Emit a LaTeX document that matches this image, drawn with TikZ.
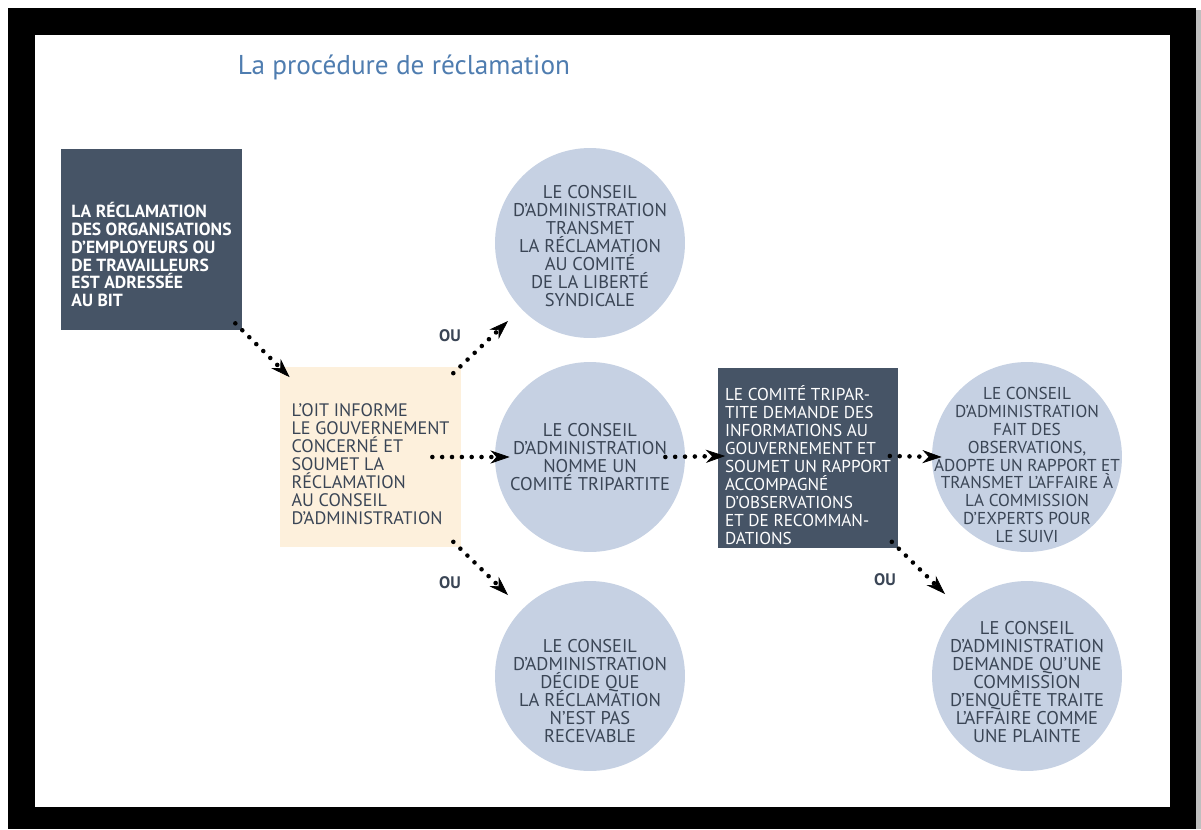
\documentclass[tikz,border=0pt]{standalone}
\usepackage{fontspec}
\setmainfont{PT Sans}
\usetikzlibrary{arrows.meta}

\definecolor{ardoise}{HTML}{465466}
\definecolor{creme}{HTML}{FDF0DC}
\definecolor{bulle}{HTML}{C6D1E3}
\definecolor{encre}{HTML}{3A4555}
\definecolor{titrebleu}{HTML}{4F7DB0}

\newcommand\serre{\lineskiplimit-20pt\relax}

\tikzset{
  pave/.style={rectangle, minimum width=3.62cm, minimum height=3.62cm, inner sep=0pt},
  pavefonce/.style={pave, fill=ardoise},
  paveclair/.style={pave, fill=creme},
  rond/.style={circle, fill=bulle, minimum size=3.8cm, inner sep=0pt},
  txtblanc/.style={text=white, align=left, inner sep=0pt, font=\fontsize{9.8}{10.2}\selectfont\serre},
  txtfonce/.style={text=encre, align=left, inner sep=0pt, font=\fontsize{10.3}{10.2}\selectfont\serre},
  txtrond/.style={text=encre, align=center, inner sep=0pt, font=\fontsize{10.5}{10.2}\selectfont\serre},
  ou/.style={text=encre, font=\fontsize{9.5}{10}\selectfont\bfseries},
  fleche/.style={line width=2.6pt, line cap=round, dash pattern=on 0pt off 5.6pt,
    -{Stealth[length=11pt,width=7.5pt,line width=0.4pt]}}
}

\begin{document}
\begin{tikzpicture}[x=0.02cm, y=-0.02cm]

\useasboundingbox (0,0) rectangle (1201,829);

% cadre noir
\fill[black] (8,8) rectangle (1196,829);
\fill[gray!50] (1196,10) rectangle (1201,829);
\fill[white] (35,35) rectangle (1170,807);

\node[text=titrebleu, font=\fontsize{15.5}{18}\selectfont] (titre) at (404,67) {La procédure de réclamation};

% les etapes
\node[pavefonce, label={[txtblanc, font=\fontsize{10}{10.2}\selectfont\bfseries\serre, yshift=-0.3cm]center:{LA RÉCLAMATION\\DES ORGANISATIONS\\D’EMPLOYEURS OU\\DE TRAVAILLEURS\\EST ADRESSÉE\\AU BIT}}] (reclam) at (151.5,239.5) {};

\node[paveclair, label={[txtfonce, yshift=-0.14cm]center:{L’OIT INFORME\\LE GOUVERNEMENT\\CONCERNÉ ET\\SOUMET LA\\RÉCLAMATION\\AU CONSEIL\\D’ADMINISTRATION}}] (oit) at (370.5,457) {};

\node[rond, label={[txtrond, yshift=-0.06cm]center:{LE CONSEIL\\D’ADMINISTRATION\\TRANSMET\\LA RÉCLAMATION\\AU COMITÉ\\DE LA LIBERTÉ\\SYNDICALE}}] (liberte) at (590,243) {};

\node[rond, label={[txtrond]center:{LE CONSEIL\\D’ADMINISTRATION\\NOMME UN\\COMITÉ TRIPARTITE}}] (nomme) at (590,457) {};

\node[rond, label={[txtrond, yshift=-0.3cm]center:{LE CONSEIL\\D’ADMINISTRATION\\DÉCIDE QUE\\LA RÉCLAMATION\\N’EST PAS\\RECEVABLE}}] (irrecevable) at (590,676) {};

\node[pavefonce, label={[txtblanc, yshift=-0.14cm]center:{LE COMITÉ TRIPAR-\\TITE DEMANDE DES\\INFORMATIONS AU\\GOUVERNEMENT ET\\SOUMET UN RAPPORT\\ACCOMPAGNÉ\\D’OBSERVATIONS\\ET DE RECOMMAN-\\DATIONS}}] (comite) at (808,458) {};

\node[rond, label={[txtrond, font=\fontsize{9.8}{10.2}\selectfont\serre, yshift=-0.16cm]center:{LE CONSEIL\\D’ADMINISTRATION\\FAIT DES\\OBSERVATIONS,\\ADOPTE UN RAPPORT ET\\TRANSMET L’AFFAIRE À\\LA COMMISSION\\D’EXPERTS POUR\\LE SUIVI}}] (suivi) at (1027,457) {};

\node[rond, label={[txtrond, yshift=-0.12cm]center:{LE CONSEIL\\D’ADMINISTRATION\\DEMANDE QU’UNE\\COMMISSION\\D’ENQUÊTE TRAITE\\L’AFFAIRE COMME\\UNE PLAINTE}}] (enquete) at (1027,676) {};

% les "ou"
\node[ou] (ou1) at (450,336) {OU};
\node[ou] (ou2) at (450,583) {OU};
\node[ou] (ou3) at (885,580) {OU};

% fleches en pointilles
\draw[fleche] ([shift={(-7,-7)}]reclam.south east) -- ([shift={(10,11)}]oit.north west);
\draw[fleche] ([shift={(-8,7)}]oit.north east) -- ([shift={(-82,78)}]liberte.center);
\draw[fleche] ([shift={(-29,0)}]oit.east) -- ([shift={(15,0)}]nomme.west);
\draw[fleche] ([shift={(-8,-6)}]oit.south east) -- ([shift={(-82,-81)}]irrecevable.center);
\draw[fleche] ([shift={(-20,0)}]nomme.east) -- ([shift={(8,-2)}]comite.west);
\draw[fleche] ([shift={(-9,-2)}]comite.east) -- ([shift={(10,0)}]suivi.west);
\draw[fleche] ([shift={(-7,-7)}]comite.south east) -- ([shift={(-82,-82)}]enquete.center);

\end{tikzpicture}
\end{document}
